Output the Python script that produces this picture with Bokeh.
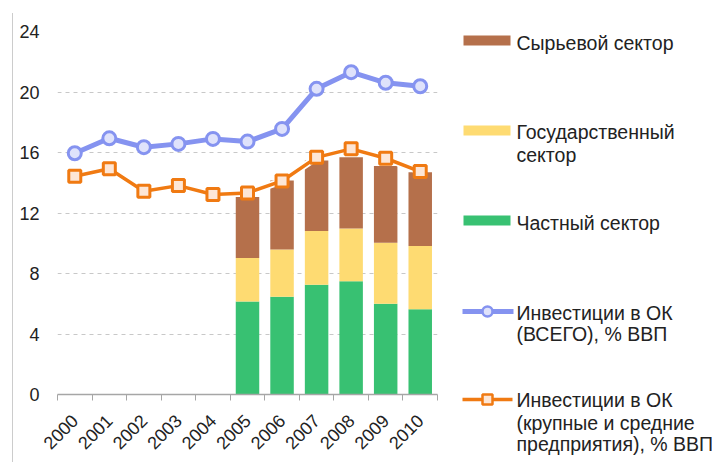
import numpy as np
from bokeh.plotting import figure
from bokeh.models import Range1d, FixedTicker, ColumnDataSource
from bokeh.layouts import row
from bokeh.embed import file_html
from bokeh.resources import INLINE
from bokeh.core.properties import value

# ---- data ----
years = ["2000", "2001", "2002", "2003", "2004", "2005", "2006", "2007", "2008", "2009", "2010"]
total_gdp = [15.95, 16.94, 16.35, 16.57, 16.90, 16.72, 17.56, 20.21, 21.31, 20.61, 20.38]
large_medium_gdp = [14.43, 14.92, 13.44, 13.81, 13.22, 13.33, 14.12, 15.68, 16.24, 15.62, 14.74]
bar_years = ["2005", "2006", "2007", "2008", "2009", "2010"]
private_sector = [6.15, 6.47, 7.26, 7.48, 6.00, 5.63]
state_sector = [2.88, 3.11, 3.55, 3.49, 4.04, 4.19]
raw_sector = [4.02, 4.57, 4.66, 4.71, 5.06, 4.87]
y_ticks = [0, 4, 8, 12, 16, 20, 24]

BROWN = "#b5704b"
YELLOW = "#fedb72"
GREEN = "#38c172"
BLUE = "#8593f0"
ORANGE = "#f07a12"
FONT = "Liberation Sans"
TXT = "#222222"

x_all = list(range(len(years)))
bar_src = ColumnDataSource(dict(
    x=[years.index(y) for y in bar_years],
    private=private_sector, state=state_sector, raw=raw_sector))

p = figure(width=458, height=462, x_range=Range1d(-0.5, 10.5), y_range=Range1d(0, 24),
           output_backend="svg", toolbar_location=None,
           min_border_left=57, min_border_right=21, min_border_top=31, min_border_bottom=68)
p.frame_align = False
p.outline_line_color = None
p.background_fill_color = "white"
p.border_fill_color = None
p.styles = {"background": "linear-gradient(#cccccc, #cccccc) 12px 13px / 1px 449px no-repeat, white"}
p.xgrid.visible = False
p.ygrid.grid_line_color = "#c8c8c8"
p.ygrid.grid_line_dash = "4 4"
p.ygrid.grid_line_width = 1

p.vbar_stack(["private", "state", "raw"], x="x", width=0.68, color=[GREEN, YELLOW, BROWN],
             line_color=None, source=bar_src)

# total line
p.line(x_all, total_gdp, line_color="white", line_width=8)
p.line(x_all, total_gdp, line_color=BLUE, line_width=5)
p.scatter(x_all, total_gdp, marker="circle", size=13, fill_color="#dfe2fb",
          line_color=BLUE, line_width=3)
# large & medium line
p.line(x_all, large_medium_gdp, line_color="white", line_width=7)
p.line(x_all, large_medium_gdp, line_color=ORANGE, line_width=3.5)
p.scatter(x_all, large_medium_gdp, marker="square", size=12, fill_color="#fde6d6",
          line_color=ORANGE, line_width=3)

xa = p.xaxis[0]
xa.ticker = FixedTicker(ticks=x_all, minor_ticks=[i - 0.5 for i in range(len(years) + 1)])
xa.major_label_overrides = {i: y for i, y in enumerate(years)}
xa.major_label_orientation = np.pi / 4
xa.major_tick_in = 0
xa.major_tick_out = 0
xa.minor_tick_in = 0
xa.minor_tick_out = 6
xa.minor_tick_line_color = "#a6a6a6"
xa.axis_line_color = "#a6a6a6"
xa.axis_line_width = 1.5
xa.major_label_text_font = FONT
xa.major_label_text_font_size = "18px"
xa.major_label_text_color = TXT
xa.major_label_standoff = 17

ya = p.yaxis[0]
ya.ticker = FixedTicker(ticks=y_ticks)
ya.axis_line_color = None
ya.major_tick_in = 0
ya.major_tick_out = 0
ya.minor_tick_line_color = None
ya.major_label_standoff = 18
ya.major_label_text_font = FONT
ya.major_label_text_font_size = "18px"
ya.major_label_text_color = TXT

# ---- legend panel (pixel coordinates of the page) ----
leg = figure(width=254, height=462, x_range=Range1d(458, 712), y_range=Range1d(462, 0),
             output_backend="svg", toolbar_location=None, min_border=0,
             x_axis_type=None, y_axis_type=None)
leg.frame_align = False
leg.outline_line_color = None
leg.grid.visible = False

leg.rect(x=[486.5, 486.5, 486.5], y=[40, 130, 220], width=47, height=10,
         fill_color=[BROWN, YELLOW, GREEN], line_color=None)
leg.line([462, 513], [311, 311], line_color=BLUE, line_width=5)
leg.scatter([487], [311], marker="circle", size=10, fill_color="#dfe2fb", line_color=BLUE, line_width=2.5)
leg.line([462, 512], [399, 399], line_color=ORANGE, line_width=3.5)
leg.scatter([487], [399], marker="square", size=10, fill_color="#fde6d6", line_color=ORANGE, line_width=2.5)

leg_lines = ["Сырьевой сектор", "Государственный", "сектор", "Частный сектор",
             "Инвестиции в ОК", "(ВСЕГО), % ВВП",
             "Инвестиции в ОК", "(крупные и средние", "предприятия), % ВВП"]
leg_y = [42, 131, 154, 222, 312, 333, 399, 422, 443]
leg.text(x=[516] * len(leg_lines), y=leg_y, text=leg_lines, text_baseline="middle",
         text_align="left", text_font=value(FONT), text_font_size="19.5px", text_color=TXT)

layout = row(p, leg)
open("out.html", "w").write(file_html(layout, INLINE))
